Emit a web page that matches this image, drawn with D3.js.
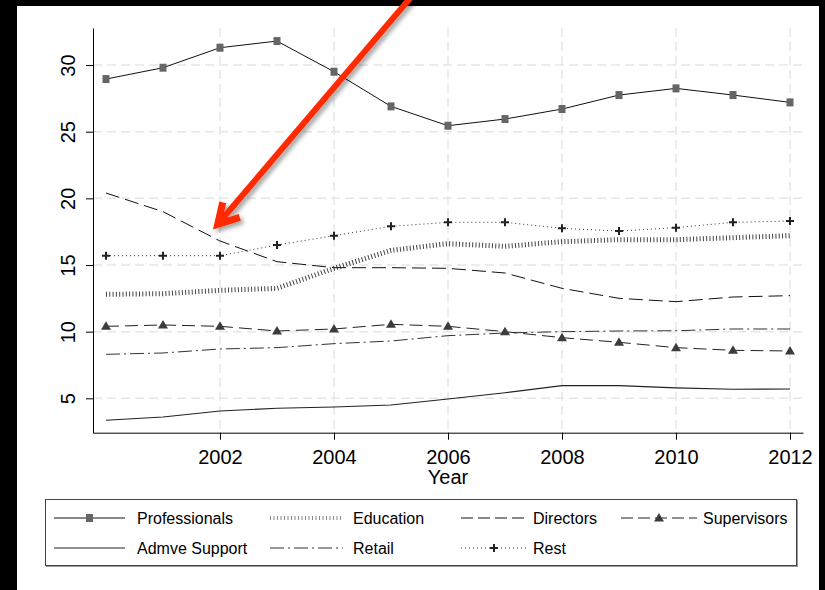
<!DOCTYPE html>
<html>
<head>
<meta charset="utf-8">
<script src="https://cdn.jsdelivr.net/npm/d3@7"></script>
<style>
  html, body { margin: 0; padding: 0; background: #000; }
  svg { display: block; font-family: "Liberation Sans", Arial, Helvetica, sans-serif; }
</style>
</head>
<body>
<svg id="chart" width="825" height="590"></svg>
<script>
// ---- data ----
const years = [2000, 2001, 2002, 2003, 2004, 2005, 2006, 2007, 2008, 2009, 2010, 2011, 2012];
const professionals = [28.95, 29.8, 31.3, 31.8, 29.5, 26.9, 25.45, 25.95, 26.7, 27.75, 28.25, 27.75, 27.2];
const education     = [12.8, 12.85, 13.1, 13.25, 14.75, 16.1, 16.6, 16.4, 16.75, 16.9, 16.9, 17.05, 17.2];
const directors     = [20.4, 19.0, 16.8, 15.25, 14.8, 14.8, 14.75, 14.4, 13.25, 12.5, 12.25, 12.6, 12.7];
const supervisors   = [10.4, 10.5, 10.4, 10.05, 10.2, 10.55, 10.4, 10.0, 9.55, 9.2, 8.8, 8.6, 8.55];
const admveSupport  = [3.35, 3.6, 4.05, 4.25, 4.35, 4.5, 4.95, 5.42, 5.95, 5.95, 5.78, 5.68, 5.7];
const retail        = [8.3, 8.4, 8.7, 8.8, 9.1, 9.3, 9.7, 9.9, 10.0, 10.05, 10.07, 10.2, 10.2];
const rest          = [15.7, 15.7, 15.7, 16.5, 17.2, 17.9, 18.2, 18.2, 17.75, 17.55, 17.8, 18.2, 18.3];
const xTicks = [2002, 2004, 2006, 2008, 2010, 2012];
const yTicks = [5, 10, 15, 20, 25, 30];
const xTitle = "Year";

// ---- series styling ----
const series = [
  { name: "Professionals", values: professionals, dash: null, width: 1, color: "#111", marker: "square" },
  { name: "Education", values: education, dash: "1,2.3", width: 5, color: "#444", marker: null },
  { name: "Directors", values: directors, dash: "14,6", width: 1, color: "#111", marker: null },
  { name: "Supervisors", values: supervisors, dash: "13,6", width: 1, color: "#222", marker: "triangle" },
  { name: "Admve Support", values: admveSupport, dash: null, width: 1.1, color: "#222", marker: null },
  { name: "Retail", values: retail, dash: "14,4,2,4", width: 1, color: "#333", marker: null },
  { name: "Rest", values: rest, dash: "1,3", width: 1, color: "#333", marker: "plus" }
];

const svg = d3.select("#chart");
const W = 825, H = 590;

// frame
svg.append("rect").attr("x", 0).attr("y", 0).attr("width", W).attr("height", H).attr("fill", "#000");
svg.append("rect").attr("x", 17).attr("y", 6).attr("width", 802).attr("height", H - 6).attr("fill", "#fff");

const x = d3.scaleLinear().domain([1999.772, 2012.228]).range([93, 803]);
const y = d3.scaleLinear().domain([2.42, 32.78]).range([432.7, 28]);

// gridlines
const grid = svg.append("g");
grid.selectAll(".vg").data(xTicks).join("line")
  .attr("x1", d => x(d)).attr("x2", d => x(d))
  .attr("y1", y.range()[1]).attr("y2", y.range()[0])
  .attr("stroke", "#e6e6e6").attr("stroke-width", 1.5).attr("stroke-dasharray", "9,5");
grid.selectAll(".hg").data(yTicks).join("line")
  .attr("x1", x.range()[0]).attr("x2", x.range()[1])
  .attr("y1", d => y(d)).attr("y2", d => y(d))
  .attr("stroke", "#e6e6e6").attr("stroke-width", 1.5).attr("stroke-dasharray", "9,5");

// lines
const lineGen = d3.line().x((d, i) => x(years[i])).y(d => y(d));
const linesG = svg.append("g");
series.forEach(s => {
  linesG.append("path").datum(s.values)
    .attr("d", lineGen)
    .attr("fill", "none")
    .attr("stroke", s.color)
    .attr("stroke-width", s.width)
    .attr("stroke-dasharray", s.dash);
});

function drawMarker(g, type, cx, cy) {
  if (type === "square") {
    g.append("rect").attr("x", cx - 3.5).attr("y", cy - 4).attr("width", 7).attr("height", 8).attr("fill", "#666");
  } else if (type === "triangle") {
    g.append("path").attr("d", `M${cx},${cy - 5}L${cx + 5},${cy + 3.5}L${cx - 5},${cy + 3.5}Z`).attr("fill", "#3c3c3c");
  } else if (type === "plus") {
    g.append("path").attr("d", `M${cx - 4},${cy}H${cx + 4}M${cx},${cy - 4}V${cy + 4}`)
      .attr("stroke", "#222").attr("stroke-width", 2).attr("fill", "none");
  }
}
const markG = svg.append("g");
series.filter(s => s.marker).forEach(s => {
  s.values.forEach((v, i) => drawMarker(markG, s.marker, x(years[i]), y(v)));
});

// axes
const xAxis = svg.append("g").attr("transform", `translate(0,${y.range()[0]})`)
  .call(d3.axisBottom(x).tickValues(xTicks).tickFormat(d3.format("d")).tickSize(7).tickPadding(10).tickSizeOuter(0));
xAxis.selectAll("text").attr("font-size", 20).attr("fill", "#000").attr("font-family", "Liberation Sans, Arial, sans-serif");
xAxis.selectAll("line").attr("stroke", "#000");
xAxis.select(".domain").attr("stroke", "#000");

const yAxis = svg.append("g").attr("transform", `translate(${x.range()[0]},0)`)
  .call(d3.axisLeft(y).tickValues(yTicks).tickFormat(d3.format("d")).tickSize(7).tickSizeOuter(0));
yAxis.selectAll("text")
  .attr("x", null).attr("dy", null)
  .attr("transform", "translate(-18,0) rotate(-90)")
  .attr("text-anchor", "middle")
  .attr("font-size", 20).attr("fill", "#000").attr("font-family", "Liberation Sans, Arial, sans-serif");
yAxis.selectAll("line").attr("stroke", "#000");
yAxis.select(".domain").attr("stroke", "#000");

svg.append("text").attr("x", (x.range()[0] + x.range()[1]) / 2).attr("y", 484)
  .attr("text-anchor", "middle").attr("font-size", 20).attr("fill", "#000").text(xTitle);

// legend
const leg = svg.append("g");
leg.append("rect").attr("x", 46).attr("y", 500).attr("width", 752).attr("height", 67).attr("fill", "#999");
leg.append("rect").attr("x", 45.5).attr("y", 499.5).attr("width", 751).attr("height", 66).attr("fill", "#fff").attr("stroke", "#444").attr("stroke-width", 1);
const cols = [
  { k0: 54, k1: 125, t: 137 },
  { k0: 270, k1: 343, t: 353 },
  { k0: 461, k1: 527, t: 533 },
  { k0: 621, k1: 697, t: 703 }
];
const rows = [518, 548];
const legendOrder = ["Professionals", "Education", "Directors", "Supervisors", "Admve Support", "Retail", "Rest"];
legendOrder.forEach((name, idx) => {
  const s = series.find(d => d.name === name);
  const c = cols[idx % 4], ry = rows[Math.floor(idx / 4)];
  const isEdu = s.name === "Education";
  leg.append("line").attr("x1", c.k0).attr("x2", c.k1).attr("y1", ry).attr("y2", ry)
    .attr("stroke", isEdu ? "#888" : s.color).attr("stroke-width", isEdu ? 4 : s.width)
    .attr("stroke-dasharray", s.dash === "14,6" || s.dash === "13,6" ? "12,5" : (isEdu ? "1,2.5" : s.dash));
  if (s.marker) drawMarker(leg, s.marker, (c.k0 + c.k1) / 2, ry);
  leg.append("text").attr("x", c.t).attr("y", ry).attr("dy", "0.35em")
    .attr("font-size", 16).attr("fill", "#000").text(name);
});

// annotation arrow
const defs = svg.append("defs");
const f = defs.append("filter").attr("id", "shadow").attr("x", "-20%").attr("y", "-20%").attr("width", "140%").attr("height", "140%");
f.append("feDropShadow").attr("dx", 3).attr("dy", 3).attr("stdDeviation", 2).attr("flood-color", "#000").attr("flood-opacity", 0.35);
const tip = [x(2001.96), y(18.05)];
const dir = [0.648, -0.762]; // unit vector from tip toward tail
const tail = [tip[0] + dir[0] * 320, tip[1] + dir[1] * 320];
const arrow = svg.append("g").attr("filter", "url(#shadow)");
arrow.append("line").attr("x1", tail[0]).attr("y1", tail[1]).attr("x2", tip[0] + dir[0] * 4).attr("y2", tip[1] + dir[1] * 4)
  .attr("stroke", "#ff2a00").attr("stroke-width", 6);
arrow.append("path")
  .attr("d", `M${tip[0] + 5},${tip[1] - 22}L${tip[0]},${tip[1]}L${tip[0] + 22},${tip[1] - 7}`)
  .attr("fill", "none").attr("stroke", "#ff2a00").attr("stroke-width", 7).attr("stroke-linejoin", "miter").attr("stroke-miterlimit", 10);
</script>
</body>
</html>
